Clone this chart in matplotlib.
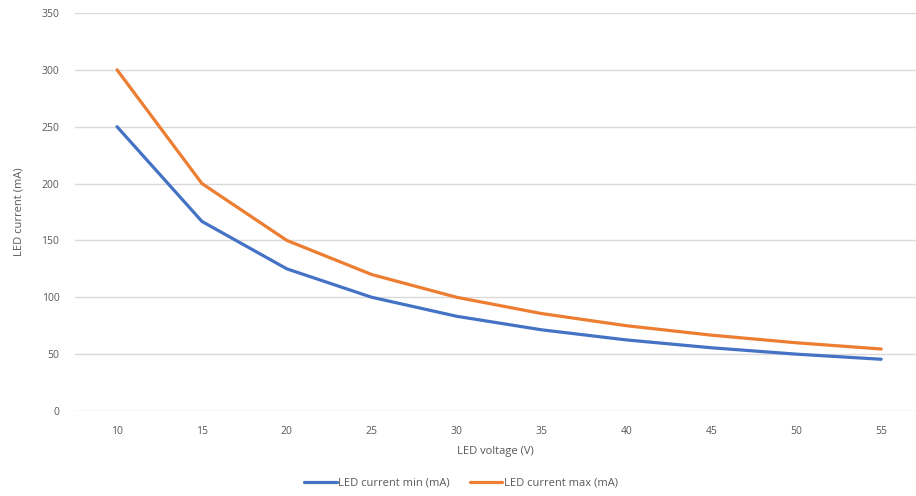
import matplotlib
matplotlib.use("Agg")
import matplotlib.pyplot as plt

voltage = [10, 15, 20, 25, 30, 35, 40, 45, 50, 55]
current_min = [250, 166.7, 125, 100, 83.3, 71.4, 62.5, 55.6, 50, 45.5]
current_max = [300, 200, 150, 120, 100, 85.7, 75, 66.7, 60, 54.5]

plt.rcParams['font.family'] = ['Open Sans', 'DejaVu Sans']
grey = '#595959'

fig = plt.figure(figsize=(9.16, 4.96), dpi=100)
W, H = 916, 496
ax = fig.add_axes([74.6 / W, 1 - 411 / H, (916 - 74.6) / W, (411 - 13) / H])

pos = list(range(len(voltage)))
ax.plot(pos, current_min, color='#4472C4', lw=2.3, label='LED current min (mA)',
        solid_capstyle='round')
ax.plot(pos, current_max, color='#ED7D31', lw=2.3, label='LED current max (mA)',
        solid_capstyle='round')

ax.set_xlim(-0.5, 9.41)
ax.set_ylim(0, 350)
ax.set_yticks(range(0, 351, 50))
ax.set_xticks(pos)
ax.set_xticklabels([str(v) for v in voltage])
ax.grid(axis='y', color='#D9D9D9', lw=1)
ax.set_axisbelow(True)
for s in ax.spines.values():
    s.set_visible(False)
ax.tick_params(length=0, labelsize=7.5, colors=grey)
ax.tick_params(axis='y', pad=11)
ax.tick_params(axis='x', pad=11)

ax.set_xlabel('LED voltage (V)', fontsize=8, color=grey, labelpad=6)
ax.set_ylabel('LED current (mA)', fontsize=8, color=grey, labelpad=12)

fig.legend(loc='center', bbox_to_anchor=(461 / W, 1 - 483 / H), ncol=2,
           frameon=False, fontsize=8, labelcolor=grey, handlelength=2.9,
           handletextpad=0.15, columnspacing=1.8)

fig.savefig('out.png', dpi=100)
